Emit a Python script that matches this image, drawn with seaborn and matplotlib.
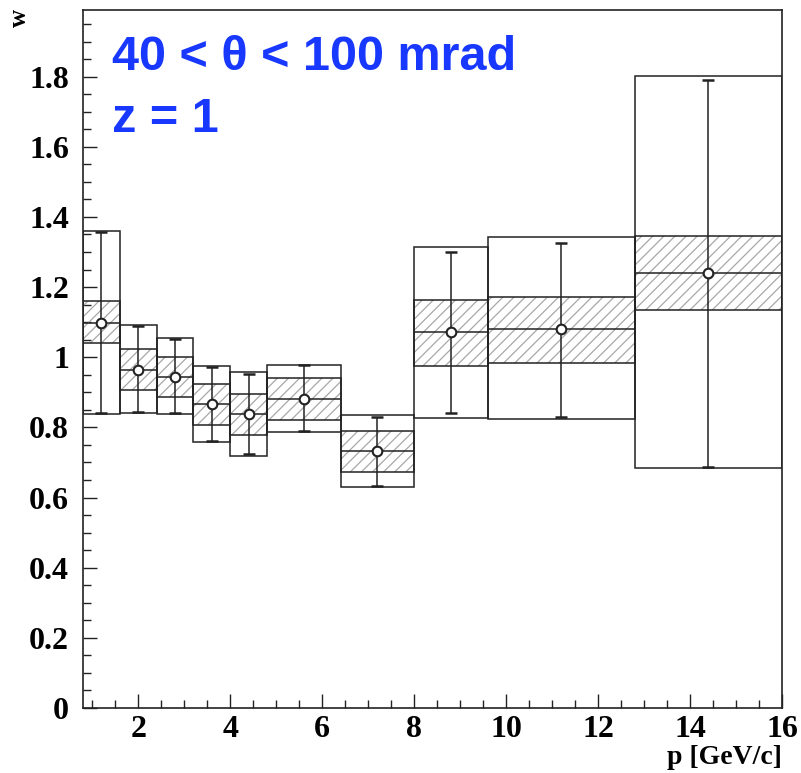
import numpy as np
import pandas as pd
import matplotlib
matplotlib.use("Agg")
import matplotlib.pyplot as plt
import seaborn as sns
from matplotlib.ticker import MultipleLocator, FixedLocator, FixedFormatter

# ---- data ----
bin_low = [0.8, 1.6, 2.4, 3.2, 4.0, 4.8, 6.4, 8.0, 9.6, 12.8]
bin_high = [1.6, 2.4, 3.2, 4.0, 4.8, 6.4, 8.0, 9.6, 12.8, 16.0]
p_center = [1.2, 2.0, 2.8, 3.6, 4.4, 5.6, 7.2, 8.8, 11.2, 14.4]
w_value = [1.098, 0.964, 0.944, 0.866, 0.838, 0.881, 0.733, 1.071, 1.081, 1.241]
stat_low = [0.840, 0.844, 0.840, 0.761, 0.724, 0.789, 0.632, 0.841, 0.831, 0.686]
stat_high = [1.357, 1.088, 1.052, 0.973, 0.953, 0.977, 0.831, 1.299, 1.326, 1.790]
sys_low = [1.040, 0.906, 0.886, 0.808, 0.777, 0.821, 0.674, 0.976, 0.984, 1.134]
sys_high = [1.160, 1.024, 1.002, 0.923, 0.896, 0.941, 0.790, 1.164, 1.172, 1.345]
tot_low = [0.837, 0.841, 0.837, 0.757, 0.719, 0.786, 0.629, 0.826, 0.823, 0.683]
tot_high = [1.360, 1.091, 1.055, 0.976, 0.957, 0.979, 0.834, 1.313, 1.342, 1.803]

x_ticks = [2, 4, 6, 8, 10, 12, 14, 16]
x_tick_labels = ["2", "4", "6", "8", "10", "12", "14", "16"]
y_ticks = [0, 0.2, 0.4, 0.6, 0.8, 1.0, 1.2, 1.4, 1.6, 1.8]
y_tick_labels = ["0", "0.2", "0.4", "0.6", "0.8", "1", "1.2", "1.4", "1.6", "1.8"]

title_lines = ["40 < \u03b8 < 100 mrad", "z = 1"]
x_label = "p [GeV/c]"
y_label = "w"

df = pd.DataFrame({
    "lo": bin_low, "hi": bin_high, "p": p_center, "w": w_value,
    "stat_lo": stat_low, "stat_hi": stat_high,
    "sys_lo": sys_low, "sys_hi": sys_high,
    "tot_lo": tot_low, "tot_hi": tot_high,
})
df["width"] = df["hi"] - df["lo"]

sns.set_theme(style="ticks")
plt.rcParams["font.family"] = ["Liberation Serif", "DejaVu Serif"]
plt.rcParams["hatch.linewidth"] = 0.9

ink = "#222222"
W, H = 801, 773
fig = plt.figure(figsize=(W / 100, H / 100), dpi=100)
ax = fig.add_axes([83 / W, 1 - 708 / H, (782 - 83) / W, (708 - 10) / H])

# total uncertainty boxes
ax.bar(df["lo"], df["tot_hi"] - df["tot_lo"], bottom=df["tot_lo"], width=df["width"],
       align="edge", fill=False, edgecolor=ink, linewidth=1.1, zorder=2)
# systematic hatched boxes
ax.bar(df["lo"], df["sys_hi"] - df["sys_lo"], bottom=df["sys_lo"], width=df["width"],
       align="edge", color="none", edgecolor="#a8a8a8", hatch="///", linewidth=0, zorder=1)
ax.bar(df["lo"], df["sys_hi"] - df["sys_lo"], bottom=df["sys_lo"], width=df["width"],
       align="edge", fill=False, edgecolor=ink, linewidth=1.1, zorder=2)
# central value lines across bins
ax.hlines(df["w"], df["lo"], df["hi"], colors=ink, linewidth=1.1, zorder=3)
# statistical error bars
ax.errorbar(df["p"], df["w"], yerr=[df["w"] - df["stat_lo"], df["stat_hi"] - df["w"]],
            fmt="none", ecolor=ink, elinewidth=1.1, capsize=4, capthick=1.8, zorder=4)
# points
sns.scatterplot(data=df, x="p", y="w", ax=ax, marker="o", s=48, color="white",
                edgecolor=ink, linewidth=1.5, zorder=5, legend=False)

ax.set_xlim(0.8, 16.0)
ax.set_ylim(0, 1.99)
ax.set_xlabel("")
ax.set_ylabel("")

ax.xaxis.set_major_locator(FixedLocator(x_ticks))
ax.xaxis.set_major_formatter(FixedFormatter(x_tick_labels))
ax.xaxis.set_minor_locator(MultipleLocator(0.5))
ax.yaxis.set_major_locator(FixedLocator(y_ticks))
ax.yaxis.set_major_formatter(FixedFormatter(y_tick_labels))
ax.yaxis.set_minor_locator(MultipleLocator(0.05))

ax.tick_params(axis="both", which="both", direction="in", color=ink, width=1.0,
               top=False, right=False)
ax.tick_params(axis="both", which="major", length=10)
ax.tick_params(axis="both", which="minor", length=5.5)
ax.tick_params(axis="x", which="major", pad=5)
ax.tick_params(axis="y", which="major", pad=10)
for lab in ax.get_xticklabels() + ax.get_yticklabels():
    lab.set_fontsize(23)
    lab.set_fontweight("bold")
    lab.set_color("black")

for sp in ax.spines.values():
    sp.set_visible(True)
    sp.set_color(ink)
    sp.set_linewidth(1.2)

fig.text(782 / W, 1 - 758 / H, x_label, ha="right", va="center", fontsize=20,
         fontweight="bold", color="black")
fig.text(19 / W, 1 - 18 / H, y_label, ha="center", va="center", rotation=90,
         fontsize=18, fontweight="bold", color="black")

blue = "#1838ff"
fig.text(112 / W, 1 - 70 / H, title_lines[0], ha="left", va="baseline", fontsize=35,
         fontweight="bold", color=blue, family=["Liberation Sans", "DejaVu Sans"])
fig.text(112 / W, 1 - 132 / H, title_lines[1], ha="left", va="baseline", fontsize=35,
         fontweight="bold", color=blue, family=["Liberation Sans", "DejaVu Sans"])

fig.savefig("out.png", dpi=100)
